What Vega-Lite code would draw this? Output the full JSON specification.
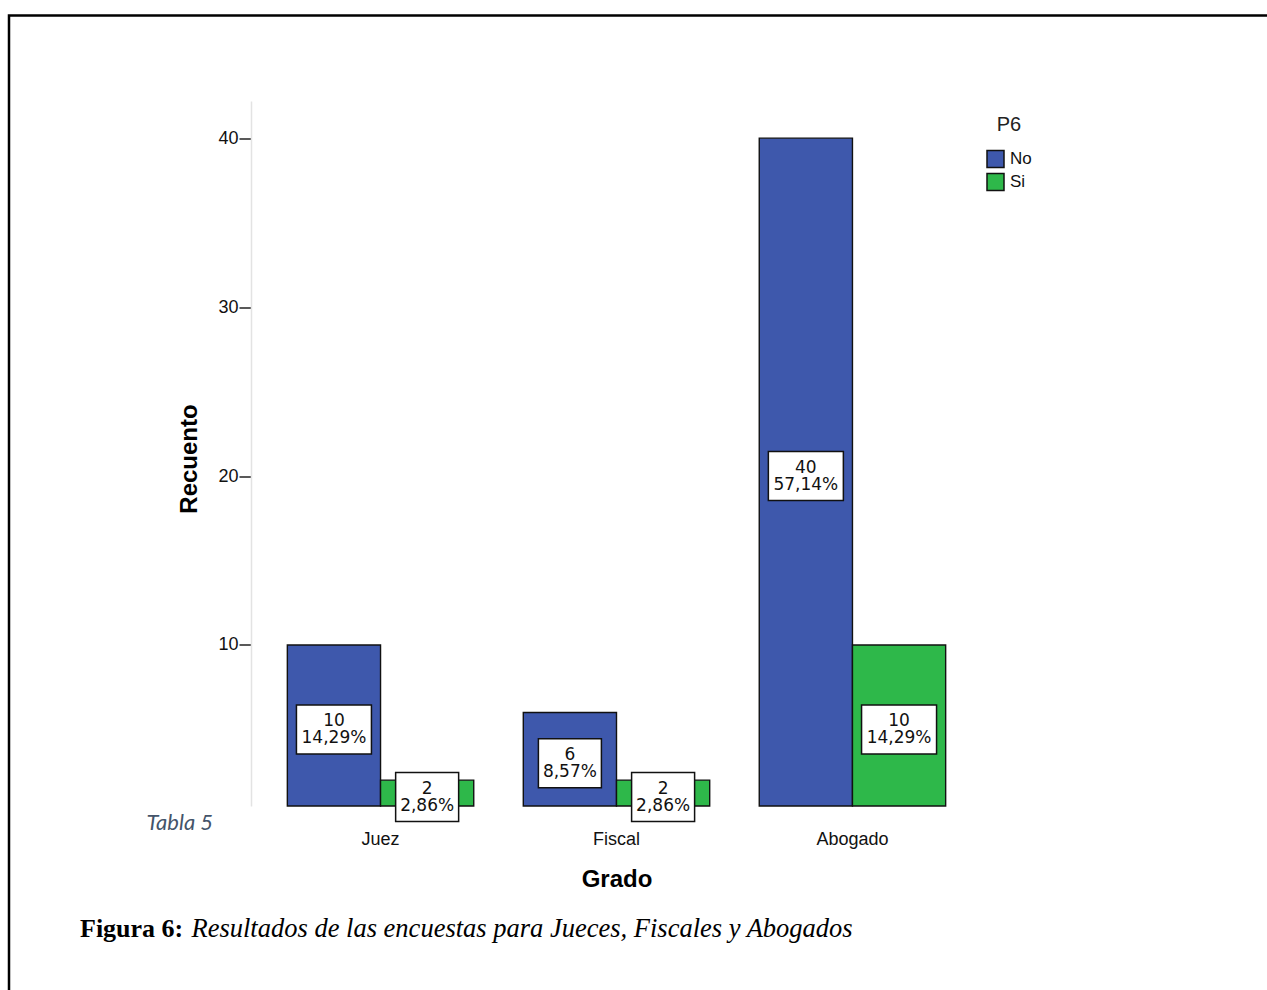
{
  "$schema": "https://vega.github.io/schema/vega-lite/v6.json",
  "width": 1300,
  "height": 1000,
  "autosize": {"type": "none"},
  "padding": {"left": 9, "top": 15.5, "right": 0, "bottom": 0},
  "background": "white",
  "title": {
    "text": "Figura 6:",
    "orient": "top",
    "anchor": "start",
    "frame": "group",
    "dx": 71,
    "dy": 951,
    "baseline": "alphabetic",
    "font": "Liberation Serif",
    "fontSize": 26,
    "fontWeight": "bold",
    "color": "#000"
  },
  "config": {
    "view": {"stroke": "#000", "strokeWidth": 2.5},
    "axis": {"grid": false}
  },
  "datasets": {
    "tabla": [
      {"Grado": "Juez", "P6": "No", "Recuento": 10, "Porcentaje": "14,29%"},
      {"Grado": "Juez", "P6": "Si", "Recuento": 2, "Porcentaje": "2,86%"},
      {"Grado": "Fiscal", "P6": "No", "Recuento": 6, "Porcentaje": "8,57%"},
      {"Grado": "Fiscal", "P6": "Si", "Recuento": 2, "Porcentaje": "2,86%"},
      {"Grado": "Abogado", "P6": "No", "Recuento": 40, "Porcentaje": "57,14%"},
      {"Grado": "Abogado", "P6": "Si", "Recuento": 10, "Porcentaje": "14,29%"}
    ]
  },
  "layer": [
    {
      "data": {"name": "tabla"},
      "encoding": {
        "x": {
          "field": "Grado",
          "type": "nominal",
          "sort": ["Juez", "Fiscal", "Abogado"],
          "scale": {"range": [242, 973], "paddingInner": 0.21, "paddingOuter": 0.154},
          "axis": {
            "title": "Grado",
            "orient": "bottom",
            "offset": -209.5,
            "domain": false,
            "ticks": false,
            "tickSize": 0,
            "labelAngle": 0,
            "labelFont": "Liberation Sans",
            "labelFontSize": 18,
            "labelColor": "#111",
            "labelBaseline": "alphabetic",
            "labelPadding": 38,
            "titleFont": "Liberation Sans",
            "titleFontSize": 24,
            "titleFontWeight": "bold",
            "titleColor": "#000",
            "titleY": 80,
            "titleBaseline": "alphabetic"
          }
        },
        "xOffset": {
          "field": "P6",
          "type": "nominal",
          "sort": ["No", "Si"],
          "scale": {"paddingInner": 0, "paddingOuter": 0}
        }
      },
      "layer": [
        {
          "mark": {"type": "bar", "stroke": "#111", "strokeWidth": 1.4},
          "encoding": {
            "y": {
              "field": "Recuento",
              "type": "quantitative",
              "title": "Recuento",
              "scale": {"domain": [0.47, 42.2], "range": [790.5, 85.5], "clamp": true, "nice": false, "zero": false},
              "axis": {
                "orient": "left",
                "offset": -242,
                "values": [10, 20, 30, 40],
                "domainColor": "#e3e3e3",
                "domainWidth": 1.5,
                "tickColor": "#222",
                "tickSize": 12,
                "tickWidth": 1.5,
                "labelFont": "Liberation Sans",
                "labelFontSize": 18,
                "labelColor": "#111",
                "labelPadding": 1,
                "titleFont": "Liberation Sans",
                "titleFontSize": 24,
                "titleFontWeight": "bold",
                "titleColor": "#000",
                "titleX": -55,
                "titleY": 443,
                "titleAngle": -90,
                "titleAlign": "center",
                "titleBaseline": "alphabetic"
              }
            },
            "color": {
              "field": "P6",
              "type": "nominal",
              "scale": {"domain": ["No", "Si"], "range": ["#3e58ac", "#2eb84a"]},
              "legend": {
                "title": "P6",
                "orient": "none",
                "legendX": 977,
                "legendY": 99,
                "padding": 0,
                "titleFont": "Liberation Sans",
                "titleFontSize": 20,
                "titleFontWeight": "normal",
                "titleColor": "#222",
                "titleAnchor": "middle",
                "titlePadding": 15,
                "labelFont": "Liberation Sans",
                "labelFontSize": 17,
                "labelColor": "#111",
                "labelOffset": 5,
                "symbolType": "square",
                "symbolSize": 289,
                "symbolStrokeColor": "#111",
                "symbolStrokeWidth": 1.5,
                "rowPadding": 0
              }
            }
          }
        },
        {
          "transform": [{"calculate": "datum.Recuento / 2", "as": "Medio"}],
          "encoding": {
            "y": {"field": "Medio", "type": "quantitative", "title": "Recuento"}
          },
          "layer": [
            {
              "mark": {"type": "point", "filled": true, "fill": "white", "stroke": "#111", "strokeWidth": 1.5, "opacity": 1},
              "encoding": {
                "shape": {"condition": {"test": "datum.Recuento >= 10", "value": "M-1,-0.653H1V0.653H-1Z"}, "value": "M-1,-0.778H1V0.778H-1Z"},
                "size": {"condition": {"test": "datum.Recuento >= 10", "value": 5625}, "value": 3969}
              }
            },
            {
              "mark": {"type": "text", "font": "DejaVu Sans", "fontSize": 17, "baseline": "middle", "dy": -8.5, "color": "#111"},
              "encoding": {"text": {"field": "Recuento", "type": "quantitative"}}
            },
            {
              "mark": {"type": "text", "font": "DejaVu Sans", "fontSize": 17, "baseline": "middle", "dy": 9, "color": "#111"},
              "encoding": {"text": {"field": "Porcentaje", "type": "nominal"}}
            }
          ]
        }
      ]
    },
    {
      "data": {"values": [{"a": 0, "b": 0}]},
      "mark": {"type": "point", "opacity": 0},
      "encoding": {
        "x": {
          "field": "a",
          "type": "quantitative",
          "axis": {
            "orient": "top",
            "title": "Tabla 5",
            "domain": false,
            "ticks": false,
            "labels": false,
            "grid": false,
            "titleX": 137,
            "titleY": 813.5,
            "titleAlign": "left",
            "titleBaseline": "alphabetic",
            "titleFont": "Lato",
            "titleFontStyle": "italic",
            "titleFontWeight": "normal",
            "titleFontSize": 22,
            "titleColor": "#44546a"
          }
        },
        "y": {
          "field": "b",
          "type": "quantitative",
          "axis": {
            "orient": "right",
            "title": "Resultados de las encuestas para Jueces, Fiscales y Abogados",
            "domain": false,
            "ticks": false,
            "labels": false,
            "grid": false,
            "titleAngle": 0,
            "titleX": -1118,
            "titleY": 920.5,
            "titleAlign": "left",
            "titleBaseline": "alphabetic",
            "titleFont": "Liberation Serif",
            "titleFontStyle": "italic",
            "titleFontWeight": "normal",
            "titleFontSize": 26.5,
            "titleColor": "#000"
          }
        }
      }
    }
  ],
  "resolve": {
    "scale": {"x": "independent", "y": "independent"},
    "axis": {"x": "independent", "y": "independent"}
  }
}
